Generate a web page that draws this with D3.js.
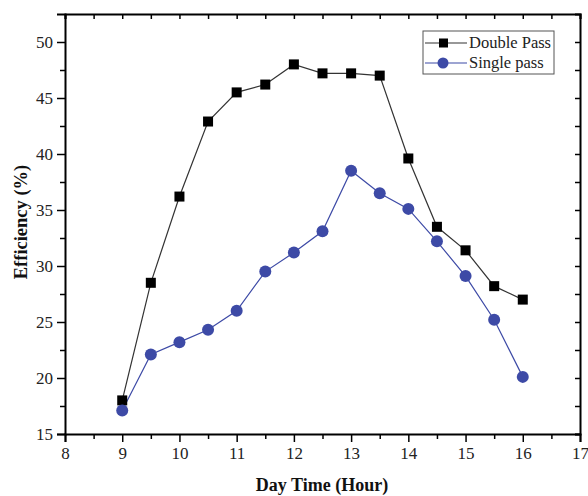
<!DOCTYPE html>
<html>
<head>
<meta charset="utf-8">
<script src="https://cdn.jsdelivr.net/npm/d3@7"></script>
<style>
  body { margin: 0; background: #fff; }
  text { font-family: "Liberation Serif", "Times New Roman", serif; }
</style>
</head>
<body>
<script>
// data
var hours = [9, 9.5, 10, 10.5, 11, 11.5, 12, 12.5, 13, 13.5, 14, 14.5, 15, 15.5, 16];
var doublePass = [18.0, 28.5, 36.2, 42.9, 45.5, 46.2, 48.0, 47.2, 47.2, 47.0, 39.6, 33.5, 31.4, 28.2, 27.0];
var singlePass = [17.1, 22.1, 23.2, 24.3, 26.0, 29.5, 31.2, 33.1, 38.5, 36.5, 35.1, 32.2, 29.1, 25.2, 20.1];
var xTicks = [8, 9, 10, 11, 12, 13, 14, 15, 16, 17];
var yTicks = [15, 20, 25, 30, 35, 40, 45, 50];
var seriesNames = ["Double Pass", "Single pass"];

var w = 588, h = 496;
var margin = { top: 14, right: 8, bottom: 62, left: 65 };
var width = w - margin.left - margin.right;
var height = h - margin.top - margin.bottom;

var svg = d3.select("body").append("svg")
    .attr("width", w)
    .attr("height", h);

var chart = svg.append("g")
    .attr("transform", "translate(" + margin.left + "," + margin.top + ")");

//scales
var x = d3.scaleLinear().domain([8, 17]).range([0, width]);
var y = d3.scaleLinear().domain([15, 52.5]).range([height, 0]);

var blue = "#3d4aa6";

//minor ticks
var xMinor = d3.range(8.5, 17, 1);
var yMinor = d3.range(17.5, 52.5, 5);

//bottom axis
chart.append("g")
    .attr("transform", "translate(0," + height + ")")
    .call(d3.axisBottom(x).tickValues(xTicks).tickSize(8).tickPadding(5).tickFormat(d3.format("d")))
    .call(function(g) { g.select(".domain").attr("stroke-width", 2); })
    .call(function(g) { g.selectAll(".tick line").attr("stroke-width", 1.5); });
chart.append("g")
    .attr("transform", "translate(0," + height + ")")
    .call(d3.axisBottom(x).tickValues(xMinor).tickSize(5).tickFormat(""))
    .call(function(g) { g.select(".domain").remove(); })
    .call(function(g) { g.selectAll(".tick line").attr("stroke-width", 1.5); });

//left axis
chart.append("g")
    .call(d3.axisLeft(y).tickValues(yTicks).tickSize(8).tickPadding(4).tickFormat(d3.format("d")))
    .call(function(g) { g.select(".domain").attr("stroke-width", 2); })
    .call(function(g) { g.selectAll(".tick line").attr("stroke-width", 1.5); });
chart.append("g")
    .call(d3.axisLeft(y).tickValues(yMinor).tickSize(5).tickFormat(""))
    .call(function(g) { g.select(".domain").remove(); })
    .call(function(g) { g.selectAll(".tick line").attr("stroke-width", 1.5); });

//top axis, ticks inward
chart.append("g")
    .call(d3.axisTop(x).tickValues(xTicks.concat(xMinor)).tickSize(-5).tickFormat(""))
    .call(function(g) { g.select(".domain").attr("stroke-width", 2); })
    .call(function(g) { g.selectAll(".tick line").attr("stroke-width", 1.5); });

//right axis, ticks inward
chart.append("g")
    .attr("transform", "translate(" + width + ",0)")
    .call(d3.axisRight(y).tickValues(yTicks.concat(yMinor)).tickSize(-5).tickFormat(""))
    .call(function(g) { g.select(".domain").attr("stroke-width", 2); })
    .call(function(g) { g.selectAll(".tick line").attr("stroke-width", 1.5); });

chart.selectAll(".tick text")
    .attr("font-family", "Liberation Serif, serif")
    .attr("font-size", 17)
    .attr("fill", "#222");

//lines
var line = d3.line()
    .x(function(d) { return x(d[0]); })
    .y(function(d) { return y(d[1]); });

var dblData = hours.map(function(d, i) { return [d, doublePass[i]]; });
var sglData = hours.map(function(d, i) { return [d, singlePass[i]]; });

chart.append("path")
    .datum(dblData)
    .attr("fill", "none")
    .attr("stroke", "#333")
    .attr("stroke-width", 1.2)
    .attr("d", line);

chart.append("path")
    .datum(sglData)
    .attr("fill", "none")
    .attr("stroke", blue)
    .attr("stroke-width", 1.2)
    .attr("d", line);

chart.selectAll(".sq")
    .data(dblData)
    .enter()
    .append("rect")
    .attr("x", function(d) { return x(d[0]) - 5; })
    .attr("y", function(d) { return y(d[1]) - 5; })
    .attr("width", 10)
    .attr("height", 10)
    .attr("fill", "#000");

chart.selectAll(".dot")
    .data(sglData)
    .enter()
    .append("circle")
    .attr("cx", function(d) { return x(d[0]); })
    .attr("cy", function(d) { return y(d[1]); })
    .attr("r", 6)
    .attr("fill", blue);

//legend
var legend = svg.append("g").attr("transform", "translate(423,31)");
legend.append("rect")
    .attr("width", 131)
    .attr("height", 43)
    .attr("fill", "#fff")
    .attr("stroke", "#555")
    .attr("stroke-width", 1);

seriesNames.forEach(function(name, i) {
    var yy = 12 + i * 20;
    var col = i === 0 ? "#000" : blue;
    legend.append("line")
        .attr("x1", 2).attr("x2", 44)
        .attr("y1", yy).attr("y2", yy)
        .attr("stroke", i === 0 ? "#333" : blue)
        .attr("stroke-width", 1.2);
    if (i === 0) {
        legend.append("rect")
            .attr("x", 16).attr("y", yy - 4.5)
            .attr("width", 9).attr("height", 9)
            .attr("fill", col);
    } else {
        legend.append("circle")
            .attr("cx", 20).attr("cy", yy)
            .attr("r", 5.5)
            .attr("fill", col);
    }
    legend.append("text")
        .attr("x", 46)
        .attr("y", yy + 5)
        .attr("font-size", 16.5)
        .attr("fill", "#222")
        .text(name);
});

//axis titles
svg.append("text")
    .attr("x", 322)
    .attr("y", 491)
    .attr("text-anchor", "middle")
    .attr("font-size", 18)
    .attr("font-weight", "bold")
    .attr("fill", "#111")
    .text("Day Time (Hour)");

svg.append("text")
    .attr("transform", "translate(27,222) rotate(-90)")
    .attr("text-anchor", "middle")
    .attr("font-size", 18.5)
    .attr("font-weight", "bold")
    .attr("fill", "#111")
    .text("Efficiency (%)");
</script>
</body>
</html>
